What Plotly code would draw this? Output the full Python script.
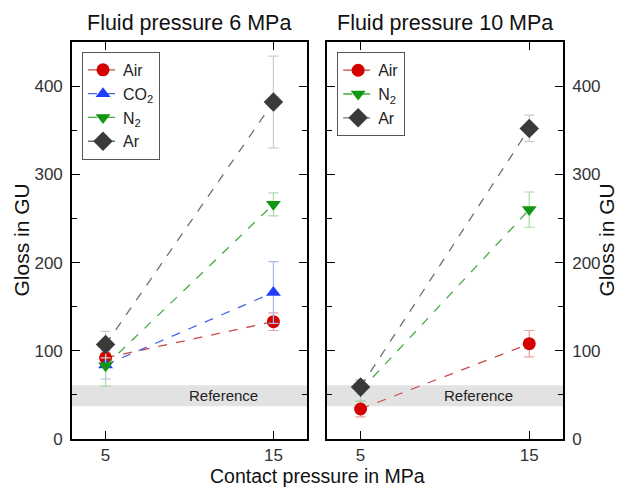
import plotly.graph_objects as go

contact = [5, 15]

# Fluid pressure 6 MPa
air6 = [92, 133]
air6_err = [6, 10]
co2_6 = [84, 166]
co2_6_err = [16, 35]
n2_6 = [83, 266]
n2_6_err = [23, 13]
ar6 = [107, 382]
ar6_err = [15, 52]

# Fluid pressure 10 MPa
air10 = [34, 108]
air10_err = [9, 15]
n2_10 = [55, 260]
n2_10_err = [12, 20]
ar10 = [59, 352]
ar10_err = [8, 15]

ref_band = [37, 61]

styles = {
    "Air": dict(mc="#d40000", lc="#c84a4a", ec="#e8a0a0", sym="circle", size=13),
    "CO<sub>2</sub>": dict(mc="#1f3fff", lc="#4a66e6", ec="#a8b8f0", sym="triangle-up", size=13),
    "N<sub>2</sub>": dict(mc="#119611", lc="#44aa44", ec="#a8dca8", sym="triangle-down", size=13),
    "Ar": dict(mc="#3a3a3a", lc="#707070", ec="#cccccc", sym="diamond", size=15),
}

FONT = "Liberation Sans, Arial, sans-serif"
fig = go.Figure()

def add(name, y, err, xa, ya, leg):
    s = styles[name]
    fig.add_trace(go.Scatter(
        x=contact, y=y, name=name, mode="lines+markers",
        xaxis=xa, yaxis=ya, legend=leg,
        line=dict(color=s["lc"], width=1.3, dash="dash"),
        marker=dict(color=s["mc"], symbol=s["sym"], size=s["size"], line=dict(width=0)),
        error_y=dict(type="data", array=err, visible=True, color=s["ec"], thickness=1.2, width=5),
    ))

add("Air", air6, air6_err, "x", "y", "legend")
add("CO<sub>2</sub>", co2_6, co2_6_err, "x", "y", "legend")
add("N<sub>2</sub>", n2_6, n2_6_err, "x", "y", "legend")
add("Ar", ar6, ar6_err, "x", "y", "legend")

add("Air", air10, air10_err, "x2", "y2", "legend2")
add("N<sub>2</sub>", n2_10, n2_10_err, "x2", "y2", "legend2")
add("Ar", ar10, ar10_err, "x2", "y2", "legend2")

axis_common = dict(
    showline=True, linecolor="black", linewidth=1.6, mirror="ticks",
    ticks="inside", ticklen=8, tickwidth=1.3, tickcolor="black",
    showgrid=False, zeroline=False,
    tickfont=dict(family=FONT, size=17, color="#333"),
)
xcommon = dict(axis_common, range=[3, 17], tickvals=contact, ticktext=[str(c) for c in contact])
ycommon = dict(axis_common, range=[0, 450], tickvals=[0, 100, 200, 300, 400], ticklabelstandoff=4,
               minor=dict(dtick=50, ticks="inside", ticklen=5, tickwidth=1.3, tickcolor="black"))

legend_common = dict(xanchor="left", yanchor="top", bordercolor="#555", borderwidth=1,
                     bgcolor="white", font=dict(family=FONT, size=16, color="#222"),
                     tracegroupgap=0, itemwidth=30)

fig.update_layout(
    width=629, height=490,
    margin=dict(l=72, r=66, t=42, b=51),
    paper_bgcolor="white", plot_bgcolor="white",
    font=dict(family=FONT, size=15, color="#222"),
    xaxis=dict(xcommon, domain=[0, 0.4786], anchor="y"),
    yaxis=dict(ycommon, anchor="x", side="left"),
    xaxis2=dict(xcommon, domain=[0.519, 1], anchor="y2"),
    yaxis2=dict(ycommon, anchor="x2", side="right"),
    legend=dict(legend_common, x=0.0204, y=0.975),
    legend2=dict(legend_common, x=0.540, y=0.974),
    showlegend=True,
)

for xr, yr in [("x", "y"), ("x2", "y2")]:
    fig.add_shape(type="rect", xref=f"{xr} domain", yref=yr, x0=0, x1=1,
                  y0=ref_band[0], y1=ref_band[1], fillcolor="#e2e2e2",
                  line=dict(width=0), layer="below")
    fig.add_annotation(x=12, y=sum(ref_band) / 2, xref=xr, yref=yr, text="Reference",
                       showarrow=False, font=dict(family=FONT, size=15, color="#222"))

TF = dict(family=FONT, size=21.5, color="#111")
YF = dict(family=FONT, size=21, color="#111")
XF = dict(family=FONT, size=19.5, color="#111")
fig.add_annotation(x=0.2393, y=1.0, xref="paper", yref="paper", xanchor="center", yanchor="bottom",
                   yshift=5, text="Fluid pressure 6 MPa", showarrow=False, font=TF)
fig.add_annotation(x=0.7595, y=1.0, xref="paper", yref="paper", xanchor="center", yanchor="bottom",
                   yshift=5, text="Fluid pressure 10 MPa", showarrow=False, font=TF)
fig.add_annotation(x=0.5, y=0, xref="paper", yref="paper", xanchor="center", yanchor="top",
                   yshift=-24, text="Contact pressure in MPa", showarrow=False, font=XF)
fig.add_annotation(x=0, y=0.5, xref="paper", yref="paper", xanchor="center", yanchor="middle",
                   xshift=-51, text="Gloss in GU", textangle=-90, showarrow=False, font=YF)
fig.add_annotation(x=1, y=0.5, xref="paper", yref="paper", xanchor="center", yanchor="middle",
                   xshift=43, text="Gloss in GU", textangle=-90, showarrow=False, font=YF)

fig.write_html("out.html")
